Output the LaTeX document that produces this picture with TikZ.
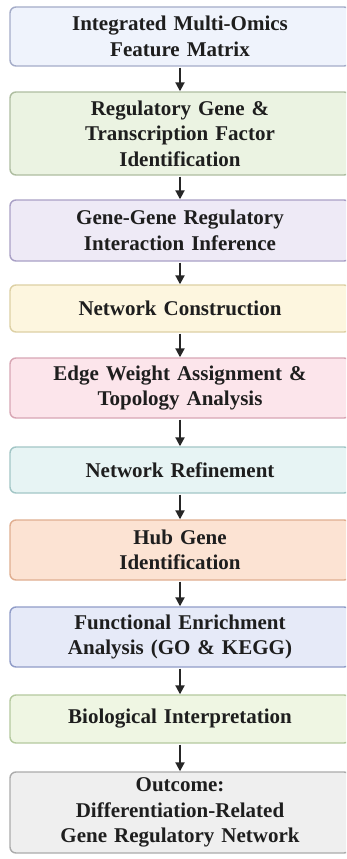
\documentclass[tikz,border=0pt]{standalone}
\usepackage{fontspec}
\setmainfont{Liberation Serif}
\usetikzlibrary{arrows.meta}
\definecolor{txt}{HTML}{1E1E1E}
% fill / border colour pairs of the ten stages
\definecolor{f1}{HTML}{EFF3FC}\definecolor{b1}{HTML}{A4ACC8}
\definecolor{f2}{HTML}{EBF3E2}\definecolor{b2}{HTML}{AEBDA0}
\definecolor{f3}{HTML}{EEEAF6}\definecolor{b3}{HTML}{A9A0C6}
\definecolor{f4}{HTML}{FDF6DF}\definecolor{b4}{HTML}{DDD0A4}
\definecolor{f5}{HTML}{FCE5EB}\definecolor{b5}{HTML}{D8A6B4}
\definecolor{f6}{HTML}{E7F4F4}\definecolor{b6}{HTML}{A2C6C6}
\definecolor{f7}{HTML}{FCE3D3}\definecolor{b7}{HTML}{E0AE90}
\definecolor{f8}{HTML}{E6EAF8}\definecolor{b8}{HTML}{909CC8}
\definecolor{f9}{HTML}{EFF6E3}\definecolor{b9}{HTML}{B4C99E}
\definecolor{f10}{HTML}{EFEFEF}\definecolor{b10}{HTML}{ABABAB}
\tikzset{
  x=1pt, y=1pt,
  stage/.style={draw=b#1, fill=f#1, line width=1.4pt, rounded corners=6pt,
    minimum width=340pt, text width=330pt, align=center, inner sep=0pt,
    font=\bfseries\fontsize{21}{25.5}\selectfont, text=txt},
  flow/.style={-{Triangle[length=9pt,width=9pt]}, line width=2pt, draw=black!85, shorten <=1pt},
}
\newcommand{\stagebox}[4]{% index, top, bottom, text
  \node[stage=#1, minimum height={#3-#2}] (s#1) at (180,{-(#2+#3)/2}) {#4};
}
\begin{document}
\begin{tikzpicture}
\useasboundingbox (0,0) rectangle (346,-859);
\clip (0,0) rectangle (346,-859);
\fill[white] (0,0) rectangle (346,-859);
\stagebox{1}{7}{66}{Integrated Multi-Omics\\Feature Matrix}
\stagebox{2}{92}{175}{Regulatory Gene \&\\Transcription Factor\\Identification}
\stagebox{3}{200}{261}{Gene-Gene Regulatory\\Interaction Inference}
\stagebox{4}{285}{332}{Network Construction}
\stagebox{5}{358}{418}{Edge Weight Assignment \&\\Topology Analysis}
\stagebox{6}{447}{493}{Network Refinement}
\stagebox{7}{520}{580}{Hub Gene\\Identification}
\stagebox{8}{607}{667}{Functional Enrichment\\Analysis (GO \& KEGG)}
\stagebox{9}{695}{743}{Biological Interpretation}
\stagebox{10}{772}{853}{Outcome:\\Differentiation-Related\\Gene Regulatory Network}
\foreach \a/\b in {1/2,2/3,3/4,4/5,5/6,6/7,7/8,8/9,9/10}
  \draw[flow] (s\a.south) -- (s\b.north);
\end{tikzpicture}
\end{document}
